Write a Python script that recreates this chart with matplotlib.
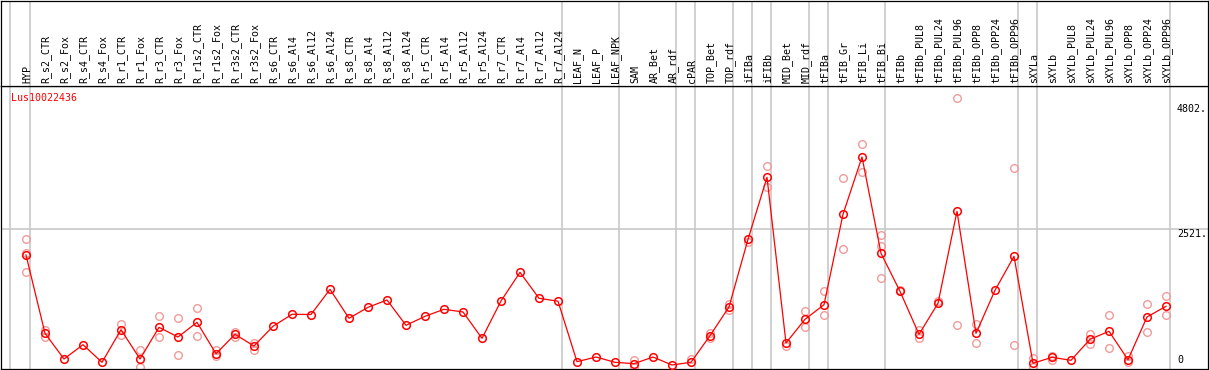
import matplotlib
matplotlib.use('Agg')
import matplotlib.pyplot as plt

# sample names (column order)
samples = ['HYP',
           'R_s2_CTR', 'R_s2_Fox', 'R_s4_CTR', 'R_s4_Fox', 'R_r1_CTR', 'R_r1_Fox',
           'R_r3_CTR', 'R_r3_Fox', 'R_r1s2_CTR', 'R_r1s2_Fox', 'R_r3s2_CTR', 'R_r3s2_Fox',
           'R_s6_CTR', 'R_s6_Al4', 'R_s6_Al12', 'R_s6_Al24',
           'R_s8_CTR', 'R_s8_Al4', 'R_s8_Al12', 'R_s8_Al24',
           'R_r5_CTR', 'R_r5_Al4', 'R_r5_Al12', 'R_r5_Al24',
           'R_r7_CTR', 'R_r7_Al4', 'R_r7_Al12', 'R_r7_Al24',
           'LEAF_N', 'LEAF_P', 'LEAF_NPK', 'SAM', 'AR_Bet', 'AR_rdf', 'cPAR',
           'TOP_Bet', 'TOP_rdf', 'iFIBa', 'iFIBb', 'MID_Bet', 'MID_rdf',
           'tFIBa', 'tFIB_Gr', 'tFIB_Li', 'tFIB_Bi',
           'tFIBb', 'tFIBb_PUL8', 'tFIBb_PUL24', 'tFIBb_PUL96',
           'tFIBb_OPP8', 'tFIBb_OPP24', 'tFIBb_OPP96',
           'sXYLa', 'sXYLb', 'sXYLb_PUL8', 'sXYLb_PUL24', 'sXYLb_PUL96',
           'sXYLb_OPP8', 'sXYLb_OPP24', 'sXYLb_OPP96']

# mean expression
means = [2040,
         616, 149, 409, 89, 682, 149, 725, 549, 816, 245, 598, 385,
         744, 962, 958, 1416,
         889, 1089, 1222, 762,
         925, 1053, 1004, 525,
         1204, 1725, 1253, 1200,
         100, 185, 89, 64, 185, 40, 89,
         573, 1095, 2325, 3453, 440, 871,
         1136, 2780, 3822, 2071,
         1380, 598, 1162, 2835, 616, 1398, 2016,
         71, 180, 125, 507, 653, 136, 913, 1107]

# replicate values (sample index, value)
rep_idx = [0, 0, 0, 1, 1, 5, 5, 6, 6, 7, 7, 8, 8, 9, 9, 10, 10, 11, 11, 12, 12,
           32, 32, 35, 36, 36, 37, 37, 38, 39, 39, 40, 41, 41, 42, 42, 43, 43,
           44, 44, 45, 45, 45, 46, 47, 47, 48, 49, 49, 50, 50, 52, 52,
           53, 53, 54, 54, 56, 56, 57, 57, 58, 58, 59, 59, 60, 60]
rep_val = [2325, 2071, 1725, 676, 555, 785, 585, 307, 0, 925, 544, 889, 216,
           1071, 562, 318, 204, 640, 555, 313, 435,
           125, 9, 144, 622, 531, 1149, 1040, 2276, 3653, 3276, 391, 1016, 725,
           1385, 955, 3435, 2144, 4053, 3555, 2398, 2204, 1616, 1404, 676, 536,
           1204, 4889, 767, 785, 435, 3616, 398,
           167, 0, 204, 131, 604, 427, 944, 344, 204, 95, 1144, 645, 1295, 944]

# last sample of each group (separator lines)
group_ends = [-1, 0, 28, 31, 34, 35, 37, 38, 39, 41, 42, 45, 52, 53, 60]
gene = 'Lus10022436'
yticks = [4802, 2521, 0]

W, H = 1209, 370
fig = plt.figure(figsize=(W / 100, H / 100), dpi=100)
mono = 'DejaVu Sans Mono'
fs = 7.2

x0 = (1 - 26) / 19
x1 = (1208 - 26) / 19
y_top = (367.2 - 86) / 0.055
y_bot = (367.2 - 368.5) / 0.055

ax = fig.add_axes([1 / W, 1.5 / H, 1207 / W, (368.5 - 86) / H])
head = fig.add_axes([1 / W, (H - 86) / H, 1207 / W, 85.5 / H])

for a in (ax, head):
    a.set_xlim(x0, x1)
    a.set_xticks([])
    a.set_yticks([])
    for s in a.spines.values():
        s.set_linewidth(0.9)
        s.set_color('black')
    for g in group_ends:
        off = 0.15 if g < 0 else 0.23
        a.axvline(g + off, color='#c8c8c8', lw=1.2, zorder=0)

head.set_ylim(0, 1)
ax.set_ylim(y_bot, y_top)

xs = list(range(len(samples)))
for i, name in enumerate(samples):
    head.text(i + 0.05, 0.03, name, rotation=90, ha='center', va='bottom',
              family=mono, fontsize=fs, color='black')

# gridline
ax.axhline(2521, color='#c8c8c8', lw=1.2, zorder=0)

ax.plot(rep_idx, rep_val, linestyle='none', marker='o', markersize=5.5,
        markerfacecolor='none', markeredgecolor='#f09a9a', markeredgewidth=1.0,
        zorder=2, clip_on=True)
ax.plot(xs, means, color='red', lw=0.9, zorder=3)
ax.plot(xs, means, linestyle='none', marker='o', markersize=5.5,
        markerfacecolor='none', markeredgecolor='red', markeredgewidth=1.1,
        zorder=4)

ax.text(0.008, 0.958, gene, transform=ax.transAxes, color='red',
        family=mono, fontsize=fs, ha='left', va='center')

tx = (1177 - 26) / 19
for v in yticks:
    lab = str(v) + '.' if v else str(v)
    if v:
        ax.annotate(lab, (tx, v), xytext=(0, -0.5), textcoords='offset points',
                    family=mono, fontsize=fs, ha='left', va='top')
    else:
        ax.annotate(lab, (tx, v), xytext=(0, 1.5), textcoords='offset points',
                    family=mono, fontsize=fs, ha='left', va='bottom')

fig.savefig('out.png', dpi=100)
